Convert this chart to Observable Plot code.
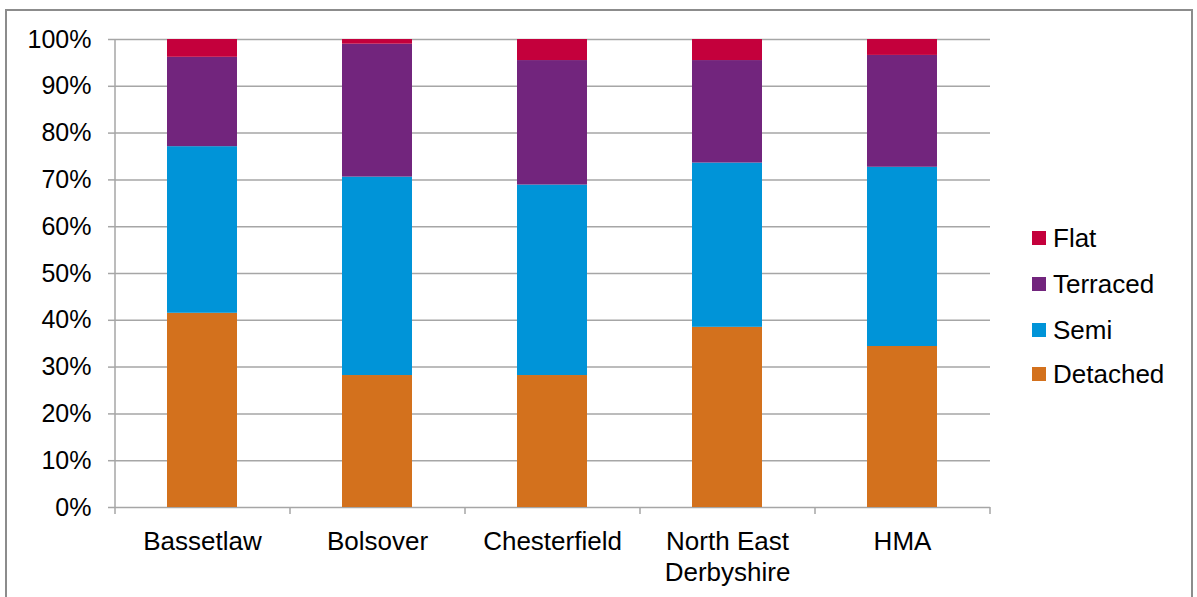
<!DOCTYPE html>
<html><head><meta charset="utf-8">
<script src="https://cdn.jsdelivr.net/npm/d3@7"></script>
<script src="https://cdn.jsdelivr.net/npm/@observablehq/plot@0.6"></script>
<style>
body{margin:0;background:#fff;font-family:"Liberation Sans",Arial,sans-serif;}
#wrap{position:relative;width:1197px;height:597px;overflow:hidden;}
#frame{position:absolute;left:5px;top:9px;width:1188px;height:640px;border:2px solid #8c8c8c;box-sizing:border-box;pointer-events:none;}
#chart{position:absolute;left:0;top:0;}
#legend{position:absolute;left:1032px;top:0;font-size:26px;color:#000;}
.li{position:absolute;left:0;height:30px;line-height:30px;white-space:nowrap;}
.sw{position:absolute;left:0;top:8px;width:14px;height:14px;}
.lt{position:absolute;left:21px;top:0;}
</style></head>
<body>
<div id="wrap"><div id="chart"></div><div id="legend"></div><div id="frame"></div></div>
<script>
const categories = ["Bassetlaw", "Bolsover", "Chesterfield", "North East\nDerbyshire", "HMA"];
const seriesNames = ["Detached", "Semi", "Terraced", "Flat"];
const detached = [41.5, 28.2, 28.2, 38.5, 34.4];
const semi = [35.6, 42.4, 40.7, 35.1, 38.3];
const terraced = [19.1, 28.4, 26.6, 21.9, 23.9];
const flat = [3.8, 1.0, 4.5, 4.5, 3.4];
const colors = ["#D3711D", "#0094D8", "#72257D", "#C4003C"];
const yTicks = [0, 10, 20, 30, 40, 50, 60, 70, 80, 90, 100];
const legendOrder = ["Flat", "Terraced", "Semi", "Detached"];

const seriesValues = [detached, semi, terraced, flat];
const rows = [];
seriesNames.forEach((s, si) => categories.forEach((c, ci) => rows.push({category: c, type: s, value: seriesValues[si][ci]})));

const W = 1197, H = 597, ML = 115, MR = 207, MT = 39, MB = 90;
const step = (W - ML - MR) / categories.length;
const gridColor = "#a6a6a6";

const chart = Plot.plot({
  width: W, height: H,
  marginLeft: ML, marginRight: MR, marginTop: MT, marginBottom: MB,
  style: {fontFamily: "'Liberation Sans', Arial, sans-serif", fontSize: "25px", color: "#000", background: "transparent"},
  x: {domain: categories, paddingInner: 0.6, paddingOuter: 0.3, label: null},
  y: {domain: [0, 100], label: null},
  color: {domain: seriesNames, range: colors},
  marks: [
    Plot.gridY({ticks: yTicks, stroke: gridColor, strokeOpacity: 1, strokeWidth: 1.5}),
    Plot.barY(rows, {x: "category", y: "value", fill: "type", order: seriesNames}),
    Plot.ruleX([categories[0]], {dx: -step / 2, y1: 0, y2: 100, stroke: gridColor, strokeWidth: 1.5}),
    Plot.axisY({ticks: yTicks, tickFormat: d => d + "%", tickSize: 7, tickPadding: 17, stroke: gridColor, strokeWidth: 1.5, fill: "#000", label: null}),
    Plot.axisX({tickSize: 0, tickPadding: 20, fill: "#000", label: null, lineHeight: 1.2, fontSize: 26}),
    Plot.axisX({tickSize: 7, tickFormat: () => "", dx: -step / 2, stroke: gridColor, strokeWidth: 1.5, label: null}),
    Plot.axisX({ticks: [categories[categories.length - 1]], tickSize: 7, tickFormat: () => "", dx: step / 2, stroke: gridColor, strokeWidth: 1.5, label: null})
  ]
});
document.getElementById("chart").appendChild(chart);

const legendTops = {Flat: 223, Terraced: 269, Semi: 315, Detached: 359};
const leg = document.getElementById("legend");
legendOrder.forEach(name => {
  const d = document.createElement("div");
  d.className = "li";
  d.style.top = legendTops[name] + "px";
  d.innerHTML = `<span class="sw" style="background:${colors[seriesNames.indexOf(name)]}"></span><span class="lt">${name}</span>`;
  leg.appendChild(d);
});
</script>
</body></html>
